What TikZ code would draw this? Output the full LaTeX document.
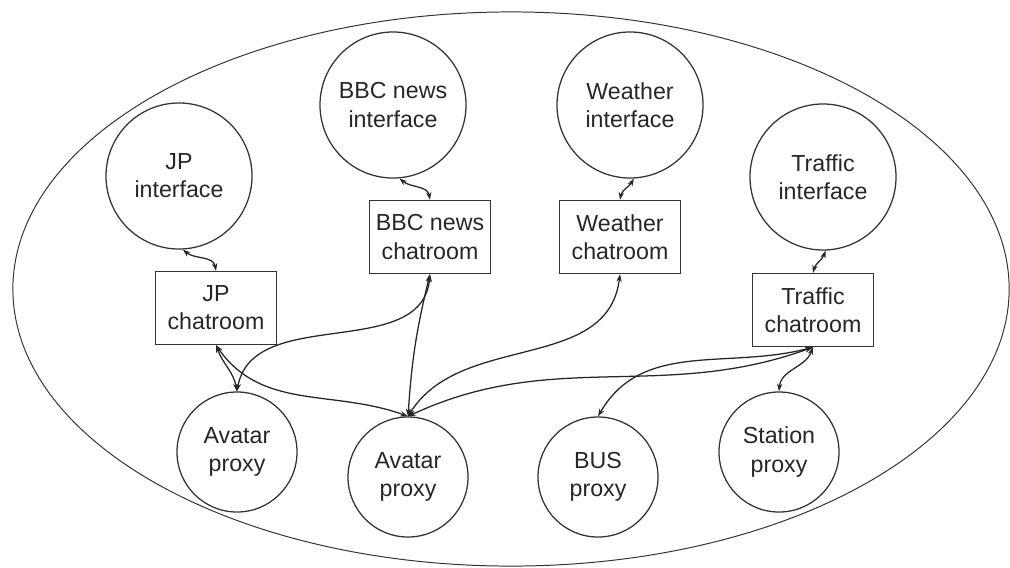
\documentclass[tikz,border=0pt]{standalone}
\usepackage{fontspec}
\setmainfont{Liberation Sans}
\usetikzlibrary{arrows.meta}

\begin{document}
\begin{tikzpicture}[x=0.025cm,y=-0.025cm,
  every node/.style={font=\fontsize{16.5}{20}\selectfont, align=center, text=black!85},
  iface/.style={circle, draw=black!80, line width=0.9pt, minimum size=3.65cm, inner sep=0pt},
  proxy/.style={circle, draw=black!80, line width=0.9pt, minimum size=3.0cm, inner sep=0pt},
  room/.style={rectangle, draw=black!80, line width=0.9pt, minimum width=3.025cm, minimum height=1.825cm, inner sep=0pt},
  link/.style={{Stealth[length=5.5pt,width=3.8pt]}-{Stealth[length=5.5pt,width=3.8pt]}, draw=black!85, line width=0.9pt},
]
\useasboundingbox (0,0) rectangle (1010,567);

% enclosing environment
\draw[black!80, line width=0.7pt] (511,289) ellipse [x radius=12.45cm, y radius=6.925cm];

% interfaces
\node[iface] (jpi)  at (179,176) {JP\\interface};
\node[iface] (bbci) at (393,105) {BBC news\\interface};
\node[iface] (wi)   at (630,105) {Weather\\interface};
\node[iface] (tri)  at (823,177) {Traffic\\interface};

% chatrooms
\node[room] (jpc)  at (216,308) {JP\\chatroom};
\node[room] (bbcc) at (430,237) {BBC news\\chatroom};
\node[room] (wc)   at (620,237) {Weather\\chatroom};
\node[room] (trc)  at (813,310) {Traffic\\chatroom};

% proxies
\node[proxy] (av1) at (237,452) {Avatar\\proxy};
\node[proxy] (av2) at (408,477) {Avatar\\proxy};
\node[proxy] (bus) at (598,477) {BUS\\proxy};
\node[proxy] (st)  at (779,452) {Station\\proxy};

% interface <-> chatroom
\draw[link] (jpi.-87)  to[out=-40,in=100]  (jpc.north);
\draw[link] (bbci.-85) to[out=-40,in=100]  (bbcc.north);
\draw[link] (wi.-87)   to[out=-120,in=80]  (wc.north);
\draw[link] (tri.-88)  to[out=-110,in=75]  (trc.north);

% chatroom <-> proxy
\draw[link] (jpc.south) to[out=-70,in=100] (av1.north);
\draw[link] (jpc.south) to[out=-55,in=160] (av2.north);
\draw[link] (av1.north) to[out=80,in=-95]  (bbcc.south);
\draw[link] (av2.north) to[bend left=5]    (bbcc.south);
\draw[link] (av2.north) to[out=58,in=-97]  (wc.south);
\draw[link] (av2.north) to[out=25,in=-160] (trc.south);
\draw[link] (trc.south) to[out=-165,in=60] (bus.north);
\draw[link] (trc.south) to[out=-110,in=85] (st.north);
\end{tikzpicture}
\end{document}
